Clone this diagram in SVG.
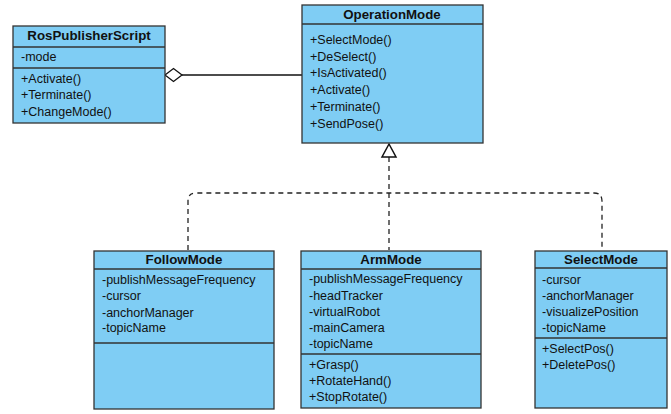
<svg xmlns="http://www.w3.org/2000/svg" width="671" height="414" viewBox="0 0 671 414">
<style>
.box{fill:#7FCDF4;stroke:#333;stroke-width:1.3}
.div{stroke:#333;stroke-width:1.3}
.t{font-family:"Liberation Sans",Arial,sans-serif;font-size:12.5px;fill:#111}
.h{font-family:"Liberation Sans",Arial,sans-serif;font-size:13.3px;font-weight:bold;fill:#111;text-anchor:middle}
.dash{fill:none;stroke:#222;stroke-width:1.3;stroke-dasharray:5,4}
</style>
<rect width="671" height="414" fill="#fff"/>
<g id="connectors">
<line x1="182" y1="75" x2="302" y2="75" stroke="#111" stroke-width="1.3"/>
<polygon points="165,75 173.5,68.5 182,75 173.5,81.5" fill="#fff" stroke="#111" stroke-width="1.3"/>
<path class="dash" d="M389,157 V250"/>
<path class="dash" d="M188,250 V201 Q188,193 196,193 H594 Q602,193 602,201 V250"/>
<polygon points="389,144 382,157 396,157" fill="#fff" stroke="#111" stroke-width="1.5"/>
</g>
<g id="RosPublisherScript">
<rect class="box" x="13" y="26" width="152" height="97"/>
<line class="div" x1="13" y1="47" x2="165" y2="47"/>
<line class="div" x1="13" y1="68" x2="165" y2="68"/>
<text class="h" x="89" y="40">RosPublisherScript</text>
<text class="t" x="21" y="61">-mode</text>
<text class="t" x="21" y="83">+Activate()</text>
<text class="t" x="21" y="99">+Terminate()</text>
<text class="t" x="21" y="116">+ChangeMode()</text>
</g>
<g id="OperationMode">
<rect class="box" x="302" y="5" width="181" height="138"/>
<line class="div" x1="302" y1="24" x2="483" y2="24"/>
<text class="h" x="392" y="19">OperationMode</text>
<text class="t" x="310" y="44">+SelectMode()</text>
<text class="t" x="310" y="61">+DeSelect()</text>
<text class="t" x="310" y="77">+IsActivated()</text>
<text class="t" x="310" y="94">+Activate()</text>
<text class="t" x="310" y="111">+Terminate()</text>
<text class="t" x="310" y="128">+SendPose()</text>
</g>
<g id="FollowMode">
<rect class="box" x="94" y="251" width="180" height="158"/>
<line class="div" x1="94" y1="269" x2="274" y2="269"/>
<line class="div" x1="94" y1="343" x2="274" y2="343"/>
<text class="h" x="184" y="264">FollowMode</text>
<text class="t" x="102" y="284">-publishMessageFrequency</text>
<text class="t" x="102" y="300">-cursor</text>
<text class="t" x="102" y="317">-anchorManager</text>
<text class="t" x="102" y="332">-topicName</text>
</g>
<g id="ArmMode">
<rect class="box" x="301" y="251" width="180" height="157"/>
<line class="div" x1="301" y1="269" x2="481" y2="269"/>
<line class="div" x1="301" y1="354" x2="481" y2="354"/>
<text class="h" x="391" y="264">ArmMode</text>
<text class="t" x="309" y="283">-publishMessageFrequency</text>
<text class="t" x="309" y="300">-headTracker</text>
<text class="t" x="309" y="316">-virtualRobot</text>
<text class="t" x="309" y="332">-mainCamera</text>
<text class="t" x="309" y="348">-topicName</text>
<text class="t" x="309" y="369">+Grasp()</text>
<text class="t" x="309" y="385">+RotateHand()</text>
<text class="t" x="309" y="401">+StopRotate()</text>
</g>
<g id="SelectMode">
<rect class="box" x="535" y="251" width="132" height="157"/>
<line class="div" x1="535" y1="268" x2="667" y2="268"/>
<line class="div" x1="535" y1="338" x2="667" y2="338"/>
<text class="h" x="601" y="264">SelectMode</text>
<text class="t" x="542" y="284">-cursor</text>
<text class="t" x="542" y="300">-anchorManager</text>
<text class="t" x="542" y="316">-visualizePosition</text>
<text class="t" x="542" y="332">-topicName</text>
<text class="t" x="542" y="353">+SelectPos()</text>
<text class="t" x="542" y="369">+DeletePos()</text>
</g>
</svg>
